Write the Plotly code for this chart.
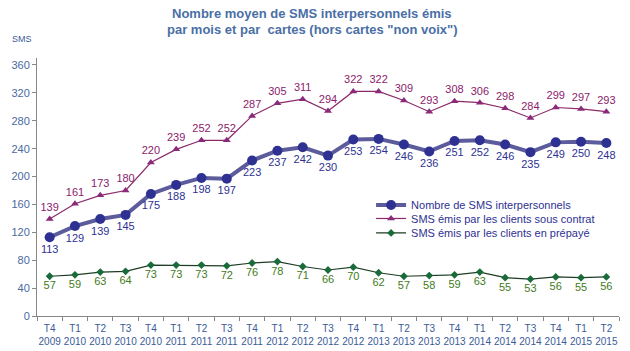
import plotly.graph_objects as go

quarters = ["T4", "T1", "T2", "T3", "T4", "T1", "T2", "T3", "T4", "T1", "T2", "T3",
            "T4", "T1", "T2", "T3", "T4", "T1", "T2", "T3", "T4", "T1", "T2"]
years = ["2009", "2010", "2010", "2010", "2010", "2011", "2011", "2011", "2011",
         "2012", "2012", "2012", "2012", "2013", "2013", "2013", "2013",
         "2014", "2014", "2014", "2014", "2015", "2015"]
total = [113, 129, 139, 145, 175, 188, 198, 197, 223, 237, 242, 230, 253, 254,
         246, 236, 251, 252, 246, 235, 249, 250, 248]
contrat = [139, 161, 173, 180, 220, 239, 252, 252, 287, 305, 311, 294, 322, 322,
           309, 293, 308, 306, 298, 284, 299, 297, 293]
prepaye = [57, 59, 63, 64, 73, 73, 73, 72, 76, 78, 71, 66, 70, 62, 57, 58, 59,
           63, 55, 53, 56, 55, 56]
y_ticks = [0, 40, 80, 120, 160, 200, 240, 280, 320, 360]

cats = [f"{q}<br>{y}" for q, y in zip(quarters, years)]
FONT = "Liberation Sans, Arial, sans-serif"

fig = go.Figure()
fig.add_trace(go.Scatter(
    x=cats, y=total, name="Nombre de SMS interpersonnels", legend="legend",
    mode="lines+markers+text", text=[str(v) for v in total],
    textposition="bottom center",
    textfont=dict(color="#2e3192", size=11, family=FONT),
    line=dict(color="#5c5c9c", width=4),
    marker=dict(color="#2e3192", size=10, symbol="circle"),
))
fig.add_trace(go.Scatter(
    x=cats, y=contrat, name="SMS émis par les clients sous contrat", legend="legend2",
    mode="lines+markers+text", text=[str(v) for v in contrat],
    textposition="top center",
    textfont=dict(color="#8b1a6b", size=11, family=FONT),
    line=dict(color="#8b2a6b", width=1.2),
    marker=dict(color="#8b2a7b", size=7, symbol="triangle-up"),
))
fig.add_trace(go.Scatter(
    x=cats, y=prepaye, name="SMS émis par les clients en prépayé", legend="legend3",
    mode="lines+markers+text", text=[str(v) for v in prepaye],
    textposition="bottom center",
    textfont=dict(color="#3f7a1a", size=11, family=FONT),
    line=dict(color="#1f3d25", width=1.2),
    marker=dict(color="#1a6b3a", size=6, symbol="diamond"),
))

leg_common = dict(xanchor="left", yanchor="middle", bgcolor="rgba(0,0,0,0)",
                  font=dict(size=11, color="#2e3192", family=FONT), itemwidth=30)
title_font = dict(size=13, color="#4a6fa5", family=FONT)
fig.update_layout(
    width=630, height=351,
    margin=dict(l=37, r=11, t=58, b=35),
    paper_bgcolor="white", plot_bgcolor="white",
    font=dict(family=FONT, color="#3a5a9a"),
    showlegend=True,
    legend=dict(x=0.574, y=0.430, **leg_common),
    legend2=dict(x=0.574, y=0.378, **leg_common),
    legend3=dict(x=0.574, y=0.322, **leg_common),
    annotations=[
        dict(
            text="<b>Nombre moyen de SMS interpersonnels émis</b>",
            xref="paper", yref="paper", x=0.472, y=1.174, xanchor="center", yanchor="middle",
            showarrow=False, font=title_font,
        ),
        dict(
            text="<b>par mois et par  cartes (hors cartes \"non voix\")</b>",
            xref="paper", yref="paper", x=0.472, y=1.112, xanchor="center", yanchor="middle",
            showarrow=False, font=title_font,
        ),
        dict(
            text="SMS", xref="paper", yref="paper", x=-0.026, y=1.074,
            xanchor="center", yanchor="middle", showarrow=False,
            font=dict(size=9, color="#3a5a9a", family=FONT),
        ),
    ],
)
fig.update_xaxes(
    type="category", range=[-0.5, 22.5], showline=True, linecolor="#888888",
    ticks="outside", tickson="boundaries", ticklen=4, tickcolor="#888888",
    tickfont=dict(size=10, color="#3a5a9a", family=FONT), showgrid=False,
    tickangle=0, ticklabelstandoff=3, automargin=False,
)
fig.update_yaxes(
    range=[0, 370], tickvals=y_ticks, showline=True, linecolor="#888888",
    ticks="outside", ticklen=4, tickcolor="#888888", showgrid=False,
    zeroline=False, tickfont=dict(size=11, color="#4a6aa0", family=FONT),
    automargin=False,
)
fig.write_html("out.html")
